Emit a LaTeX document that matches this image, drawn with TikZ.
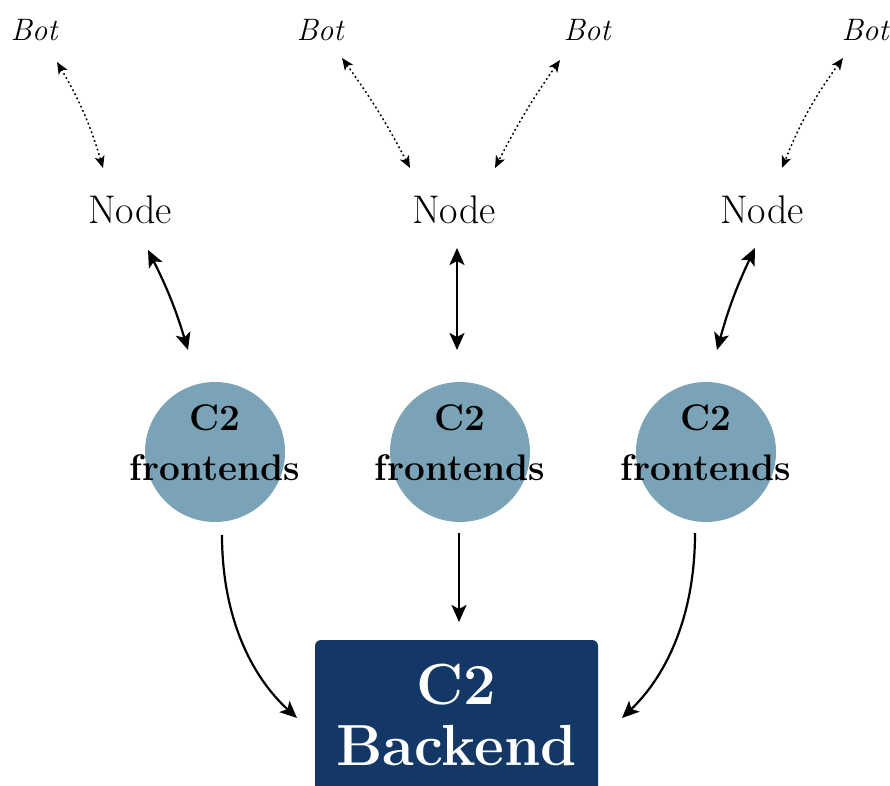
\documentclass[tikz,border=0pt]{standalone}
\usetikzlibrary{arrows.meta,calc,backgrounds}
\definecolor{frontblue}{RGB}{123,163,184}
\definecolor{backnavy}{RGB}{20,56,102}
\tikzset{
  bot/.style={font=\fontsize{31}{36}\selectfont\itshape, inner sep=0pt},
  relay/.style={font=\fontsize{40}{44}\selectfont, inner sep=0pt},
  front/.style={circle, fill=frontblue, minimum size=140pt, inner sep=0pt},
  fronttext/.style={font=\fontsize{37}{50}\selectfont\bfseries, align=center, inner sep=0pt},
  backtext/.style={font=\fontsize{58}{61}\selectfont\bfseries, text=white, align=center, inner sep=0pt},
  botlink/.style={line width=1.5pt, dash pattern=on 1.8pt off 2.8pt, {Stealth[length=12pt,width=10pt,inset=3pt]}-{Stealth[length=12pt,width=10pt,inset=3pt]}},
  relaylink/.style={line width=2.2pt, {Stealth[length=17pt,width=15pt,inset=4pt]}-{Stealth[length=17pt,width=15pt,inset=4pt]}},
  feed/.style={line width=2.2pt, -{Stealth[length=17pt,width=15pt,inset=4pt]}}
}
\begin{document}
\begin{tikzpicture}[x=1pt,y=1pt]
\clip (0,0) rectangle (890,785);

% bots
\node[bot] (b1) at (34,755) {Bot};
\node[bot] (b2) at (320,755) {Bot};
\node[bot] (b3) at (587,755) {Bot};
\node[bot] (b4) at (865,755) {Bot};

% relay nodes
\node[relay] (n1) at (130,575) {Node};
\node[relay] (n2) at (454,575) {Node};
\node[relay] (n3) at (762,575) {Node};

% frontends
\node[front] (f1) at (215,333) {};
\node[front] (f2) at (460,333) {};
\node[front] (f3) at (706,333) {};
\node[fronttext] (t1) at ($(f1)+(0,9)$) {C2\\frontends};
\node[fronttext] (t2) at ($(f2)+(0,9)$) {C2\\frontends};
\node[fronttext] (t3) at ($(f3)+(0,9)$) {C2\\frontends};

% backend
\node[backtext] (back) at (456.5,70) {C2\\Backend};
\begin{scope}[on background layer]
  \fill[white] (0,0) rectangle (890,785);
  \fill[backnavy, rounded corners=6pt] ($(back.center)+(-141.5,-100)$) rectangle ($(back.center)+(141.5,75)$);
\end{scope}

% bot <-> node links
\draw[botlink] ($(b1)+(23,-32)$) to[bend left=7] ($(n1)+(-27,42)$);
\draw[botlink] ($(b2)+(22,-28)$) to[bend left=4] ($(n2)+(-44,42)$);
\draw[botlink] ($(b3)+(-27,-30)$) to[bend right=4] ($(n2)+(41,42)$);
\draw[botlink] ($(b4)+(-22,-28)$) to[bend right=7] ($(n3)+(20,42)$);

% node <-> frontend links
\draw[relaylink] ($(n1)+(18,-40)$) to[bend left=5] ($(f1)+(-27,102)$);
\draw[relaylink] ($(n2)+(3,-38)$) -- ($(f2)+(-3,102)$);
\draw[relaylink] ($(n3)+(-7,-38)$) to[bend right=5] ($(f3)+(11,102)$);

% frontend -> backend
\draw[feed] ($(f1)+(7,-83)$) .. controls ($(f1)+(7,-163)$) and ($(back)+(-206.5,40)$) .. ($(back)+(-159.5,-3)$);
\draw[feed] ($(f2)+(-1,-81)$) -- ($(back)+(2.5,93)$);
\draw[feed] ($(f3)+(-11,-81)$) .. controls ($(f3)+(-11,-163)$) and ($(back)+(210.5,40)$) .. ($(back)+(165.5,-3)$);
\end{tikzpicture}
\end{document}
